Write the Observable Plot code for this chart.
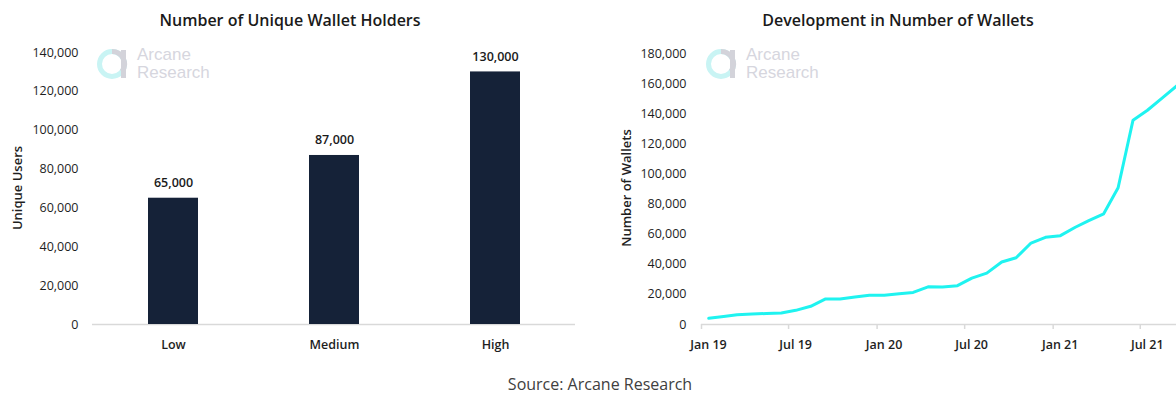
<!DOCTYPE html>
<html><head><meta charset="utf-8">
<script src="https://cdn.jsdelivr.net/npm/d3@7"></script>
<script src="https://cdn.jsdelivr.net/npm/@observablehq/plot@0.6"></script>
<style>
body{margin:0;background:#fff;}
#wrap{position:relative;width:1176px;height:394px;overflow:hidden;background:#fff;font-family:"Open Sans",sans-serif;}
#wrap svg{max-width:none !important;}
.title{position:absolute;top:10px;font-size:16px;font-weight:600;color:#1a1a1a;transform:translateX(-50%);white-space:nowrap;line-height:20px;}
.panel{position:absolute;top:0;height:360px;}
.ylab{position:absolute;font-size:13px;font-weight:600;color:#1f1f1f;white-space:nowrap;line-height:16px;transform:translate(-50%,-50%) rotate(-90deg);}
.wm{position:absolute;top:46px;display:flex;align-items:center;}
.wm span{font-family:"Liberation Sans",Arial,sans-serif;font-size:17px;line-height:18px;color:#d6d6de;margin-left:8px;}
#source{position:absolute;left:600px;top:374px;transform:translateX(-50%);font-size:16px;color:#404040;white-space:nowrap;line-height:20px;}
</style></head>
<body>
<div id="wrap">
  <div class="title" style="left:290px">Number of Unique Wallet Holders</div>
  <div class="title" style="left:898px">Development in Number of Wallets</div>
  <div class="panel" id="left" style="left:0;width:590px"></div>
  <div class="panel" id="right" style="left:590px;width:594px"></div>
  <div class="ylab" style="left:17px;top:188px">Unique Users</div>
  <div class="ylab" style="left:626px;top:188px">Number of Wallets</div>
  <div id="source">Source: Arcane Research</div>
</div>
<script>
// ---- data ----
const categories = ["Low", "Medium", "High"];
const holders = [65000, 87000, 130000];
const leftTicks = [0, 20000, 40000, 60000, 80000, 100000, 120000, 140000];

const months = ["2019-01","2019-02","2019-03","2019-04","2019-05","2019-06","2019-07","2019-08","2019-09","2019-10","2019-11","2019-12",
  "2020-01","2020-02","2020-03","2020-04","2020-05","2020-06","2020-07","2020-08","2020-09","2020-10","2020-11","2020-12",
  "2021-01","2021-02","2021-03","2021-04","2021-05","2021-06","2021-07","2021-08","2021-09"];
const wallets = [4100, 5300, 6500, 7000, 7300, 7700, 9400, 12100, 17000, 16900, 18300, 19500,
  19500, 20500, 21300, 25000, 24900, 25800, 30800, 34100, 41500, 44300, 54100, 57900,
  59000, 64600, 69000, 73500, 90800, 135700, 142300, 150500, 158800];
const rightTicks = [0, 20000, 40000, 60000, 80000, 100000, 120000, 140000, 160000, 180000];
const dateTicks = ["2019-01", "2019-07", "2020-01", "2020-07", "2021-01", "2021-07"];

// ---- tables ----
const bars = categories.map((c, i) => ({cat: c, value: holders[i]}));
const parseM = d3.utcParse("%Y-%m");
const series = months.map((m, i) => ({date: d3.utcDay.offset(parseM(m), 15), value: wallets[i]}));
const tickDates = dateTicks.map(parseM);
const fmt = d3.format(",");
const textColor = "#1e1e1e";
const axisGrey = "#d9d9d9";

const left = Plot.plot({
  width: 590, height: 360,
  marginLeft: 92, marginRight: 15, marginTop: 52, marginBottom: 36,
  style: {fontFamily: "Open Sans", fontSize: "12.5px", color: textColor, background: "transparent"},
  x: {domain: categories, paddingInner: 0.69, paddingOuter: 0.345},
  y: {domain: [0, 140000]},
  marks: [
    Plot.ruleY([0], {stroke: axisGrey, strokeWidth: 1.5}),
    Plot.barY(bars, {x: "cat", y: "value", fill: "#152238"}),
    Plot.text(bars, {x: "cat", y: "value", text: d => fmt(d.value), dy: -15, fontWeight: 600, fill: "#1a1a1a", fontSize: 12.5}),
    Plot.axisY({ticks: leftTicks, tickSize: 0, tickPadding: 14, tickFormat: fmt, label: null}),
    Plot.axisX({tickSize: 0, tickPadding: 16, label: null, fontWeight: 600})
  ]
});
document.getElementById("left").appendChild(left);

const right = Plot.plot({
  width: 594, height: 360,
  marginLeft: 111, marginRight: 0, marginTop: 53, marginBottom: 36,
  style: {fontFamily: "Open Sans", fontSize: "12.5px", color: textColor, background: "transparent"},
  x: {type: "utc", domain: [parseM("2019-01"), parseM("2021-10")]},
  y: {domain: [0, 180000]},
  marks: [
    Plot.ruleY([0], {stroke: axisGrey, strokeWidth: 1.5}),
    Plot.line(series, {x: "date", y: "value", stroke: "#1ff3f0", strokeWidth: 3, clip: true}),
    Plot.axisY({ticks: rightTicks, tickSize: 0, tickPadding: 15, tickFormat: fmt, label: null}),
    Plot.axisX({ticks: tickDates, tickSize: 5, stroke: axisGrey, strokeWidth: 1.5, text: null, label: null}),
    Plot.axisX({ticks: tickDates, tickSize: 0, tickPadding: 16, dx: 7, tickFormat: d3.utcFormat("%b %y"), label: null, fontWeight: 600})
  ]
});
document.getElementById("right").appendChild(right);

// watermarks
function addWatermark(x) {
  const div = document.createElement("div");
  div.className = "wm";
  div.style.left = x + "px";
  div.innerHTML = `<svg width="32" height="32" viewBox="0 0 32 32">
    <circle cx="15" cy="16" r="12.5" fill="none" stroke="#c9f4f4" stroke-width="5"/>
    <path d="M15 3.5 A12.5 12.5 0 0 1 25 23.5" fill="none" stroke="#d3d3da" stroke-width="5"/>
    <rect x="24" y="2" width="5" height="28" fill="#d3d3da"/>
  </svg><span>Arcane<br>Research</span>`;
  document.getElementById("wrap").appendChild(div);
}
addWatermark(97);
addWatermark(706);
</script>
</body></html>
